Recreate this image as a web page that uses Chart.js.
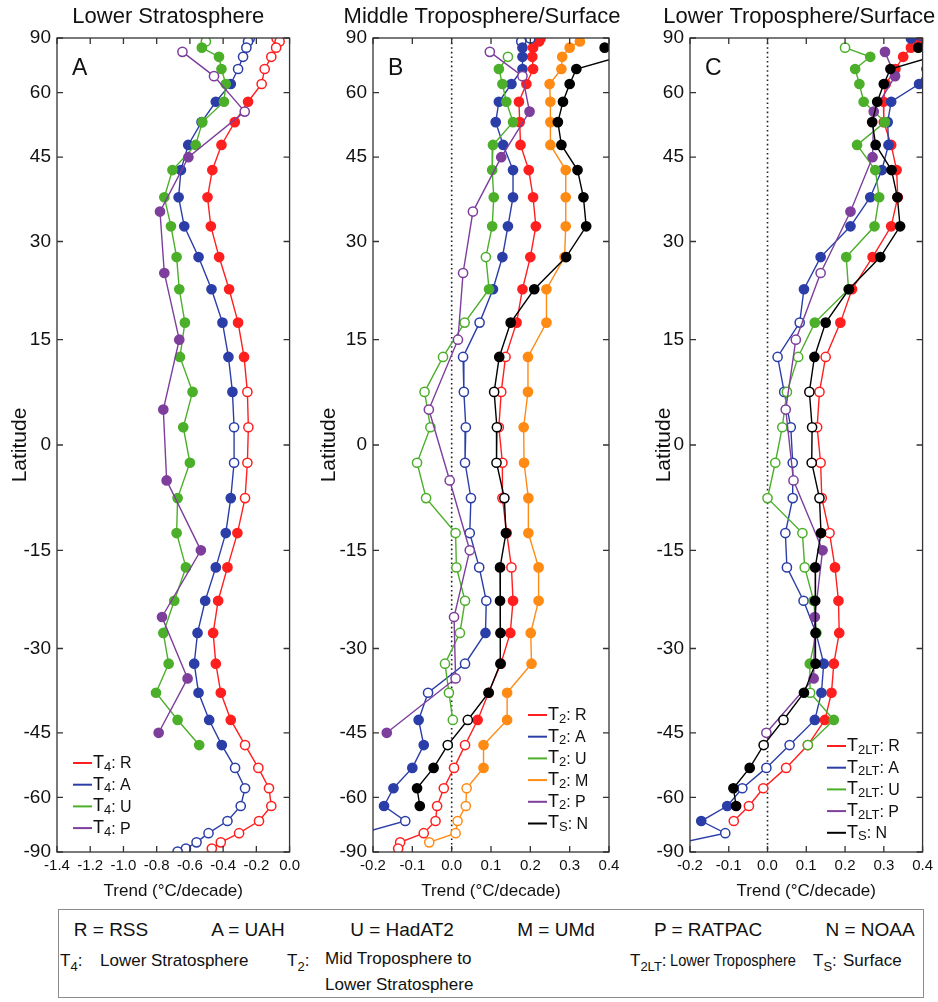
<!DOCTYPE html>
<html>
<head>
<meta charset="utf-8">
<script src="https://cdn.jsdelivr.net/npm/chart.js@4.4.0/dist/chart.umd.min.js"></script>
<style>
body { margin: 0; background: #fff; font-family: "Liberation Sans", Arial, sans-serif; color: #111; }
#page { position: relative; width: 938px; height: 1002px; overflow: hidden; background: #fff; }
canvas { position: absolute; top: 0; }
.k { position: absolute; white-space: nowrap; line-height: 1; }
.r1 { font-size: 19px; transform: translate(-50%, -50%); }
.r2 { font-size: 17px; }
.k sub { font-size: 13px; vertical-align: -5px; }
#keybox { position: absolute; left: 58px; top: 909px; width: 866px; height: 89px; border: 1.5px solid #8c8c8c; box-sizing: border-box; }
</style>
</head>
<body>
<div id="page">
  <canvas id="panA" width="297" height="905" style="left:8px"></canvas>
  <canvas id="panB" width="320" height="905" style="left:317px"></canvas>
  <canvas id="panC" width="286" height="905" style="left:652px"></canvas>

  <div id="keybox"></div>
  <span class="k r1" style="left:111px;top:929px">R = RSS</span>
  <span class="k r1" style="left:248px;top:929px">A = UAH</span>
  <span class="k r1" style="left:402px;top:929px">U = HadAT2</span>
  <span class="k r1" style="left:556px;top:929px">M = UMd</span>
  <span class="k r1" style="left:708px;top:929px">P = RATPAC</span>
  <span class="k r1" style="left:870px;top:929px">N = NOAA</span>

  <span class="k r2" style="left:60px;top:952px">T<sub>4</sub>:</span>
  <span class="k r2" style="left:100px;top:952px">Lower Stratosphere</span>
  <span class="k r2" style="left:287px;top:952px">T<sub>2</sub>:</span>
  <span class="k r2" style="left:325px;top:950px;line-height:26px;margin-top:-4px">Mid Troposphere to<br>Lower Stratosphere</span>
  <span class="k r2" style="left:630px;top:952px">T<sub>2LT</sub>:</span>
  <span class="k r2" style="left:670px;top:952px;transform:scaleX(0.86);transform-origin:left">Lower Troposphere</span>
  <span class="k r2" style="left:813px;top:952px">T<sub>S</sub>:</span>
  <span class="k r2" style="left:843px;top:952px">Surface</span>
</div>

<script>
// latitude bands (5 degree) and RATPAC bands (10 degree)
const lat5 = [87.5, 82.5, 77.5, 72.5, 67.5, 62.5, 57.5, 52.5, 47.5, 42.5, 37.5, 32.5, 27.5, 22.5, 17.5, 12.5, 7.5, 2.5,
              -2.5, -7.5, -12.5, -17.5, -22.5, -27.5, -32.5, -37.5, -42.5, -47.5, -52.5, -57.5, -62.5, -67.5, -72.5, -77.5, -82.5, -87.5];
const lat10 = [75, 65, 55, 45, 35, 25, 15, 5, -5, -15, -25, -35, -45];

const latTicks = [90, 60, 45, 30, 15, 0, -15, -30, -45, -60, -90];
const trendTicksA = [-1.4, -1.2, -1.0, -0.8, -0.6, -0.4, -0.2, 0.0];
const trendTicksBC = [-0.2, -0.1, 0.0, 0.1, 0.2, 0.3, 0.4];

// Panel A: T4
const t4R = [-0.078, -0.06, -0.081, -0.11, -0.15, -0.168, -0.25, -0.33, -0.41, -0.465, -0.494, -0.474, -0.424, -0.364, -0.31, -0.274, -0.254, -0.248,
             -0.254, -0.268, -0.314, -0.374, -0.43, -0.46, -0.444, -0.414, -0.354, -0.268, -0.188, -0.124, -0.11, -0.184, -0.304, -0.414, -0.468, null];
const t4ROpen = [87.5, 82.5, 77.5, 72.5, 67.5, 62.5, 7.5, 2.5, -2.5, -7.5, -47.5, -52.5, -57.5, -62.5, -67.5, -72.5, -77.5, -82.5];
const t4A = [-0.24, -0.25, -0.26, -0.28, -0.31, -0.354, -0.444, -0.53, -0.61, -0.654, -0.668, -0.634, -0.548, -0.47, -0.404, -0.368, -0.344, -0.334,
             -0.334, -0.354, -0.384, -0.444, -0.508, -0.554, -0.574, -0.548, -0.484, -0.408, -0.328, -0.268, -0.294, -0.374, -0.488, -0.56, -0.624, -0.674];
const t4AOpen = [87.5, 82.5, 77.5, 72.5, 67.5, 2.5, -2.5, -52.5, -57.5, -62.5, -67.5, -72.5, -77.5, -82.5, -87.5];
const t4U = [null, -0.504, -0.528, -0.425, -0.41, -0.384, -0.395, -0.525, -0.565, -0.705, -0.754, -0.714, -0.68, -0.664, -0.63, -0.66, -0.584, -0.64,
             -0.6, -0.674, -0.68, -0.624, -0.694, -0.76, -0.728, -0.804, -0.674, -0.544, null, null, null, null, null, null, null, null];
const t4UOpen = [82.5];
const t4P = [-0.645, -0.455, -0.27, -0.609, -0.78, -0.754, -0.664, -0.76, -0.74, -0.534, -0.768, -0.614, -0.788];
const t4POpen = [75, 65, 55];

// Panel B: T2 and surface
const t2R = [0.226, 0.222, 0.207, 0.205, 0.207, 0.19, 0.171, 0.173, 0.175, 0.196, 0.207, 0.214, 0.2, 0.18, 0.165, 0.137, 0.126, 0.12,
             0.129, 0.129, 0.14, 0.152, 0.156, 0.149, 0.125, 0.094, 0.066, 0.034, 0.006, -0.02, -0.037, -0.041, -0.071, -0.131, -0.136, null];
const t2ROpen = [12.5, 7.5, 2.5, -2.5, -7.5, -12.5, -17.5, -47.5, -52.5, -57.5, -62.5, -67.5, -72.5, -77.5, -82.5];
const t2A = [0.2, 0.177, 0.18, 0.18, 0.18, 0.152, 0.12, 0.112, 0.131, 0.156, 0.156, 0.143, 0.129, 0.105, 0.071, 0.029, 0.031, 0.036,
             0.034, 0.049, 0.046, 0.07, 0.088, 0.086, 0.034, -0.06, -0.084, -0.071, -0.1, -0.148, -0.172, -0.118, -0.23, null, null, null];
const t2AOpen = [87.5, 82.5, 17.5, 12.5, 7.5, 2.5, -2.5, -7.5, -12.5, -17.5, -22.5, -32.5, -37.5, -67.5];
const t2U = [null, null, null, 0.143, 0.12, 0.129, 0.139, 0.156, 0.105, 0.103, 0.107, 0.103, 0.087, 0.095, 0.033, -0.022, -0.069, -0.054,
             -0.088, -0.065, 0.01, 0.012, 0.034, 0.021, -0.017, -0.007, 0.003, null, null, null, null, null, null, null, null, null];
const t2UOpen = [72.5, 27.5, 17.5, 12.5, 7.5, 2.5, -2.5, -7.5, -12.5, -17.5, -22.5, -27.5, -32.5, -37.5, -42.5];
const t2M = [null, 0.326, 0.3, 0.281, 0.279, 0.249, 0.251, 0.251, 0.251, 0.29, 0.29, 0.29, 0.287, 0.241, 0.241, 0.194, 0.194, 0.183,
             0.184, 0.195, 0.195, 0.221, 0.221, 0.201, 0.203, 0.141, 0.141, 0.081, 0.081, 0.038, 0.036, 0.015, 0.01, -0.057, null, null];
const t2MOpen = [-57.5, -62.5, -67.5, -72.5, -77.5];
const t2P = [0.097, 0.18, 0.198, 0.126, 0.054, 0.029, 0.016, -0.058, -0.005, 0.046, 0.006, 0.01, -0.165];
const t2POpen = [75, 65, 35, 25, 15, 5, -5, -15, -25, -35];
const tsN = [null, null, 0.389, 0.425, 0.317, 0.3, 0.283, 0.27, 0.279, 0.32, 0.335, 0.342, 0.291, 0.21, 0.15, 0.121, 0.108, 0.115,
             0.114, 0.134, 0.138, 0.123, 0.123, 0.124, 0.124, 0.094, 0.041, -0.01, -0.046, -0.088, -0.081, null, null, null, null, null];
const tsNOpen = [7.5, 2.5, -2.5, -7.5, -42.5, -47.5];

// Panel C: T2LT
const t2ltR = [null, 0.39, 0.37, 0.35, 0.33, 0.305, 0.299, 0.3, 0.319, 0.333, 0.336, 0.319, 0.271, 0.218, 0.188, 0.15, 0.134, 0.128,
               0.137, 0.14, 0.16, 0.174, 0.183, 0.185, 0.171, 0.165, 0.148, 0.104, 0.048, -0.011, -0.048, -0.087, null, null, null, null];
const t2ltROpen = [12.5, 7.5, 2.5, -2.5, -7.5, -12.5, -47.5, -52.5, -57.5, -62.5, -67.5];
const t2ltA = [0.37, 0.41, 0.42, 0.42, 0.41, 0.391, 0.319, 0.31, 0.312, 0.295, 0.265, 0.214, 0.137, 0.094, 0.083, 0.026, 0.043, 0.06,
               0.065, 0.065, 0.046, 0.05, 0.093, 0.125, 0.145, 0.139, 0.122, 0.057, -0.003, -0.065, -0.104, -0.171, -0.109, -0.22, null, null];
const t2ltAOpen = [17.5, 12.5, 7.5, 2.5, -2.5, -7.5, -12.5, -17.5, -22.5, -47.5, -52.5, -57.5, -72.5];
const t2ltU = [null, null, 0.2, 0.265, 0.226, 0.237, 0.248, 0.303, 0.231, 0.278, 0.288, 0.276, 0.203, 0.209, 0.122, 0.079, 0.05, 0.038,
               0.02, 0.0, 0.09, 0.096, 0.119, 0.126, 0.109, 0.11, 0.171, 0.104, null, null, null, null, null, null, null, null];
const t2ltUOpen = [77.5, 12.5, 7.5, 2.5, -2.5, -7.5, -12.5, -17.5, -37.5, -47.5];
const t2ltP = [0.303, 0.329, 0.274, 0.271, 0.214, 0.137, 0.073, 0.047, 0.067, 0.142, 0.122, 0.119, -0.003];
const t2ltPOpen = [25, 15, 5, -5, -45];

const colors = { R: '#ff1f1f', A: '#2b3ea8', U: '#4caf2a', M: '#ff8a14', P: '#7d3e9c', N: '#000000' };
const FONT = '"Liberation Sans", Arial, sans-serif';
Chart.defaults.font.family = FONT;
Chart.defaults.color = '#111';

// y axis spaced by sine of latitude (area weighted)
const LinearScale = Chart.registry.getScale('linear');
class SineLatScale extends LinearScale {
  getPixelForValue(v) {
    return this.getPixelForDecimal((Math.sin(v * Math.PI / 180) + 1) / 2);
  }
  getValueForPixel(p) {
    return Math.asin(this.getDecimalForPixel(p) * 2 - 1) * 180 / Math.PI;
  }
}
SineLatScale.id = 'sinelat';
SineLatScale.defaults = {};
Chart.register(SineLatScale);

function series(code, lats, vals, open) {
  const color = colors[code];
  const pts = [];
  lats.forEach((la, i) => { if (vals[i] !== null) pts.push({ x: vals[i], y: la }); });
  return {
    data: pts,
    borderColor: color,
    borderWidth: 1.4,
    tension: 0,
    fill: false,
    pointRadius: 4.6,
    pointBorderWidth: 1.5,
    pointBorderColor: color,
    pointBackgroundColor: c => open.includes(c.raw.y) ? '#ffffff' : color
  };
}

const panelDeco = {
  id: 'panelDeco',
  beforeDatasetsDraw(chart, args, o) {
    if (!o.zero) return;
    const ctx = chart.ctx, a = chart.chartArea;
    const x = chart.scales.x.getPixelForValue(0);
    ctx.save();
    ctx.strokeStyle = '#222';
    ctx.lineWidth = 1.6;
    ctx.setLineDash([1.6, 3]);
    ctx.beginPath(); ctx.moveTo(x, a.top); ctx.lineTo(x, a.bottom); ctx.stroke();
    ctx.restore();
  },
  afterDatasetsDraw(chart, args, o) {
    const ctx = chart.ctx, a = chart.chartArea;
    ctx.save();
    // legend inside the plot
    let y = o.keyY;
    const x0 = a.left + o.keyDx;
    o.keys.forEach(k => {
      ctx.strokeStyle = colors[k[0]];
      ctx.lineWidth = 2;
      ctx.beginPath(); ctx.moveTo(x0, y); ctx.lineTo(x0 + 19, y); ctx.stroke();
      ctx.fillStyle = '#111';
      ctx.textAlign = 'left';
      ctx.textBaseline = 'middle';
      let tx = x0 + 20;
      ctx.font = '18px ' + FONT;
      ctx.fillText('T', tx, y);
      tx += ctx.measureText('T').width;
      ctx.font = '13px ' + FONT;
      ctx.fillText(k[1], tx, y + 4);
      tx += ctx.measureText(k[1]).width;
      ctx.font = '16px ' + FONT;
      ctx.fillText(': ' + k[0], tx, y + 1);
      y += 21.7;
    });
    ctx.restore();
  },
  afterDraw(chart, args, o) {
    const ctx = chart.ctx, a = chart.chartArea;
    const xs = chart.scales.x, ys = chart.scales.y;
    ctx.save();
    ctx.strokeStyle = '#333';
    ctx.lineWidth = 1.3;
    ctx.strokeRect(a.left, a.top, a.right - a.left, a.bottom - a.top);
    ctx.beginPath();
    xs.ticks.forEach(t => {
      const px = xs.getPixelForValue(t.value);
      ctx.moveTo(px, a.bottom); ctx.lineTo(px, a.bottom - 6);
      ctx.moveTo(px, a.top); ctx.lineTo(px, a.top + 6);
    });
    ys.ticks.forEach(t => {
      const py = ys.getPixelForValue(t.value);
      ctx.moveTo(a.left, py); ctx.lineTo(a.left + 6, py);
      ctx.moveTo(a.right, py); ctx.lineTo(a.right - 6, py);
    });
    ctx.stroke();
    ctx.fillStyle = '#111';
    ctx.textAlign = 'center';
    ctx.textBaseline = 'alphabetic';
    ctx.font = '22px ' + FONT;
    ctx.fillText(o.title, (a.left + a.right) / 2 + o.titleDx, 23);
    ctx.textAlign = 'left';
    ctx.font = '23px ' + FONT;
    ctx.fillText(o.letter, a.left + 15, 75);
    ctx.restore();
  }
};

function makePanel(id, deco, xMin, xMax, xTicks, yAxisW, padR, datasets) {
  return new Chart(document.getElementById(id), {
    type: 'line',
    data: { datasets: datasets },
    plugins: [panelDeco],
    options: {
      responsive: false,
      animation: false,
      layout: { padding: { left: 0, right: padR, top: 38, bottom: 0 } },
      plugins: { legend: { display: false }, title: { display: false }, tooltip: { enabled: false }, panelDeco: deco },
      scales: {
        x: {
          type: 'linear', min: xMin, max: xMax,
          grid: { display: false, drawTicks: false }, border: { display: false },
          afterBuildTicks: s => { s.ticks = xTicks.map(v => ({ value: v })); },
          afterFit: s => { s.height = 53; },
          ticks: { autoSkip: false, maxRotation: 0, padding: 5, font: { size: 15 }, callback: v => v.toFixed(1) },
          title: { display: true, text: 'Trend (°C/decade)', font: { size: 17 }, padding: { top: 0, bottom: 3 } }
        },
        y: {
          type: 'sinelat', min: -90, max: 90,
          grid: { display: false, drawTicks: false }, border: { display: false },
          afterBuildTicks: s => { s.ticks = latTicks.map(v => ({ value: v })); },
          afterFit: s => { s.width = yAxisW; },
          ticks: { autoSkip: false, padding: 6, font: { size: 19 }, callback: v => String(v) },
          title: { display: true, text: 'Latitude', font: { size: 21 }, padding: { top: 0, bottom: 0 } }
        }
      }
    }
  });
}

const chartA = makePanel('panA',
  { title: 'Lower Stratosphere', titleDx: -5, letter: 'A', zero: false, keyDx: 16, keyY: 763,
    keys: [['R', '4'], ['A', '4'], ['U', '4'], ['P', '4']] },
  -1.4, 0, trendTicksA, 49, 14,
  [series('P', lat10, t4P, t4POpen), series('U', lat5, t4U, t4UOpen),
   series('A', lat5, t4A, t4AOpen), series('R', lat5, t4R, t4ROpen)]);

const chartB = makePanel('panB',
  { title: 'Middle Troposphere/Surface', titleDx: -9, letter: 'B', zero: true, keyDx: 155, keyY: 715,
    keys: [['R', '2'], ['A', '2'], ['U', '2'], ['M', '2'], ['P', '2'], ['N', 'S']] },
  -0.2, 0.4, trendTicksBC, 56, 28,
  [series('N', lat5, tsN, tsNOpen), series('P', lat10, t2P, t2POpen), series('M', lat5, t2M, t2MOpen),
   series('U', lat5, t2U, t2UOpen), series('A', lat5, t2A, t2AOpen), series('R', lat5, t2R, t2ROpen)]);

const chartC = makePanel('panC',
  { title: 'Lower Troposphere/Surface', titleDx: -7, letter: 'C', zero: true, keyDx: 137, keyY: 746,
    keys: [['R', '2LT'], ['A', '2LT'], ['U', '2LT'], ['P', '2LT'], ['N', 'S']] },
  -0.2, 0.4, trendTicksBC, 38, 14,
  [series('N', lat5, tsN, tsNOpen), series('P', lat10, t2ltP, t2ltPOpen),
   series('U', lat5, t2ltU, t2ltUOpen), series('A', lat5, t2ltA, t2ltAOpen), series('R', lat5, t2ltR, t2ltROpen)]);
</script>
</body>
</html>
